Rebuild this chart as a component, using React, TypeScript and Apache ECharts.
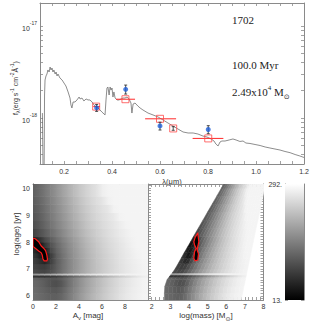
import React, { useEffect, useRef } from "react";
import * as echarts from "echarts";

// ---------- top panel: SED ----------
const spectrumWave = [0.110,0.113,0.117,0.119,0.121,0.125,0.129,0.133,0.138,0.142,0.146,0.150,0.154,0.158,0.163,0.167,0.171,0.175,0.183,0.192,0.200,0.208,0.217,0.225,0.229,0.233,0.238,0.246,0.254,0.263,0.267,0.275,0.283,0.292,0.300,0.308,0.317,0.325,0.333,0.342,0.350,0.358,0.367,0.371,0.375,0.379,0.383,0.388,0.392,0.396,0.400,0.404,0.408,0.413,0.421,0.429,0.438,0.446,0.454,0.463,0.471,0.479,0.483,0.488,0.496,0.508,0.517,0.529,0.550,0.571,0.592,0.613,0.633,0.654,0.675,0.696,0.717,0.738,0.758,0.779,0.796,0.813,0.825,0.833,0.842,0.850,0.858,0.871,0.888,0.904,0.917,0.933,0.946,0.958,0.975,0.996,1.017,1.038,1.058,1.079,1.100,1.121,1.142,1.163,1.183,1.200];
const spectrumLogFlux = [-17.946,-18.62,-18.62,-17.75,-17.587,-17.543,-17.522,-17.478,-17.5,-17.446,-17.478,-17.457,-17.5,-17.478,-17.522,-17.5,-17.543,-17.522,-17.565,-17.587,-17.62,-17.652,-17.717,-17.783,-17.859,-17.891,-17.826,-17.826,-17.804,-17.772,-17.793,-17.783,-17.815,-17.793,-17.804,-17.804,-17.826,-17.859,-17.88,-17.891,-17.913,-17.935,-17.957,-17.967,-17.804,-17.674,-17.663,-17.75,-17.663,-17.696,-17.674,-17.772,-17.717,-17.783,-17.804,-17.804,-17.793,-17.783,-17.783,-17.772,-17.793,-17.837,-17.946,-17.848,-17.837,-17.87,-17.891,-17.913,-17.946,-17.967,-17.989,-18.022,-18.054,-18.087,-18.12,-18.152,-18.163,-18.163,-18.174,-18.196,-18.207,-18.228,-18.25,-18.283,-18.304,-18.261,-18.25,-18.25,-18.239,-18.228,-18.239,-18.255,-18.25,-18.272,-18.277,-18.288,-18.299,-18.315,-18.326,-18.337,-18.348,-18.364,-18.377,-18.397,-18.413,-18.429];

// model (red squares) and band widths, flux in 1e-18 erg/s/cm2/A
const bandWave = [0.334, 0.456, 0.600, 0.655, 0.801];
const bandLo = [0.322, 0.417, 0.538, 0.655, 0.736];
const bandHi = [0.350, 0.496, 0.667, 0.655, 0.864];
const modelFlux = [1.33, 1.60, 0.98, 0.77, 0.60];
// observed (blue points)
const obsWave = [0.336, 0.457, 0.600, 0.801];
const obsFlux = [1.29, 2.05, 0.82, 0.75];
const obsErr = [0.11, 0.23, 0.08, 0.075];
// narrow-band measurement drawn only as an error bar inside its square
const narrowWave = [0.655];
const narrowFlux = [0.77];
const narrowErr = [0.035];

const xLabels = [0.2, 0.4, 0.6, 0.8, 1.0, 1.2];
const yLabelExp = [-18, -17];

// ---------- bottom panels: chi2 maps ----------
const avNodes = [0,0.5,1,1.5,2,2.5,3,3.5,4,4.5,5,5.5,6,6.5,7,7.5,8,8.5,9,9.5,10];
const ageEdges = [5.85,6.1,6.35,6.6,6.7,6.78,6.85,7.0,7.2,7.4,7.6,7.8,8.0,8.2,8.5,8.8,9.1,9.4,9.7,10.0,10.15];
// chi2 per age row (bottom to top) at each A_v node
const chi2Rows = [
  [133,129,123,118,117,126,142,160,177,192,207,219,231,241,249,258,266,271,276,279,280],
  [131,126,119,111,109,119,138,155,173,188,202,215,227,238,247,256,264,270,274,278,280],
  [128,122,114,103,98,109,131,151,168,185,199,212,224,235,245,254,261,268,273,278,280],
  [122,117,111,106,106,117,133,151,168,185,199,212,224,235,245,254,261,268,273,278,280],
  [70,70,70,73,80,94,110,126,141,156,171,185,198,211,222,233,244,253,262,271,277],
  [177,183,188,197,208,219,230,238,247,254,260,266,270,273,276,278,278,278,279,279,280],
  [95,90,87,98,117,137,155,173,188,201,214,225,235,244,251,258,265,270,274,278,280],
  [87,81,79,92,114,134,153,171,186,200,213,224,234,243,250,258,265,270,274,278,280],
  [81,68,51,79,111,133,153,171,186,200,213,225,235,244,251,259,266,271,276,279,280],
  [73,51,29,73,114,136,155,173,188,202,215,226,236,245,253,260,267,272,278,280,280],
  [62,35,40,90,119,140,159,175,190,204,218,229,238,247,255,261,268,273,279,280,280],
  [35,29,68,101,125,144,162,178,194,208,220,231,241,249,256,262,269,276,280,280,280],
  [40,62,92,114,133,151,167,183,197,211,223,234,243,251,258,265,271,277,280,280,280],
  [84,98,114,130,145,161,176,190,204,218,229,238,247,255,261,268,273,279,280,280,280],
  [98,109,123,139,154,168,183,197,210,223,234,243,251,258,265,271,278,280,280,280,280],
  [105,115,129,144,160,174,188,202,215,227,238,247,255,261,268,278,280,280,280,280,280],
  [109,119,133,149,164,178,192,207,220,232,242,250,258,265,278,280,280,280,280,280,280],
  [114,123,138,153,168,183,197,211,224,236,246,255,262,276,280,280,280,280,280,280,280],
  [117,128,142,157,173,188,202,216,230,241,250,259,273,279,280,280,280,280,280,280,280],
  [117,128,142,157,173,188,202,216,230,241,250,259,273,279,280,280,280,280,280,280,280],
];
// log(mass) reached at A_v = 0 and at A_v = 10 for every age edge
const massAtAvMin = [2.68,2.68,2.7,2.82,2.93,3.02,3.1,3.25,3.42,3.58,3.74,3.91,4.08,4.24,4.49,4.74,4.99,5.24,5.49,5.74,5.87];
const massAtAvMax = [6.8,6.88,6.95,7.03,7.06,7.08,7.1,7.15,7.21,7.27,7.33,7.39,7.45,7.51,7.6,7.7,7.79,7.88,7.97,8.06,8.1];

// best-fit contours
const leftContourAv = [0.0,0.2,0.49,0.72,0.92,1.09,1.2,1.26,1.2,0.97,0.86,0.8,0.72,0.49,0.2,0.0];
const leftContourAge = [8.14,8.12,8.01,7.85,7.77,7.68,7.52,7.36,7.3,7.3,7.38,7.52,7.6,7.67,7.77,7.83];
const midContourMass = [4.47,4.53,4.47,4.44,4.51,4.47,4.33,4.26,4.3,4.39,4.3,4.26,4.33,4.44];
const midContourAge = [8.32,8.01,7.83,7.7,7.56,7.33,7.3,7.4,7.64,7.77,7.89,8.01,8.17,8.3];

const chi2Min = 13;
const chi2Max = 292;

const FONT = "Liberation Sans";
const AXC = "#8a8a8a";
const TXT = "#333";

function range(a: number, b: number, step: number): number[] {
  const out: number[] = [];
  const n = Math.round((b - a) / step);
  for (let i = 0; i <= n; i++) out.push(+(a + i * step).toFixed(6));
  return out;
}

function gray(v: number): string {
  let g = Math.round(((v - chi2Min) / (chi2Max - chi2Min)) * 255);
  g = Math.max(0, Math.min(255, g));
  return `rgb(${g},${g},${g})`;
}

export default function App() {
  const ref = useRef<HTMLDivElement>(null);
  useEffect(() => {
    if (!ref.current) return;
    const chart = echarts.init(ref.current, null, { renderer: "svg" });

    const logTicks: number[] = [];
    for (let e = -19; e <= -17; e++) {
      for (let k = 1; k <= 9; k++) {
        const v = Math.log10(k) + e;
        if (v >= -18.5 && v <= -16.75) logTicks.push(v);
      }
    }
    const xTicks = range(0.1, 1.2, 0.05);
    const massTicks = range(1.8, 8.0, 0.2);
    const ageTicks = range(5.9, 10.1, 0.1);
    const cbTicks = range(0, 40, 1).map((i) => chi2Min + (i * (chi2Max - chi2Min)) / 40);

    const tickStyle = (vals: number[], len = 3) => ({
      show: true, inside: true, length: len, customValues: vals,
      lineStyle: { color: AXC, width: 0.8 },
    });
    const line = { show: true, lineStyle: { color: AXC, width: 1 } };
    const lbl = (vals: number[], fmt: (v: number) => string, margin: number) => ({
      show: true, customValues: vals, formatter: fmt, margin,
      fontSize: 7, fontFamily: FONT, color: TXT,
    });
    const noLbl = { show: false };

    const specData = spectrumWave.map((w, i) => [w, spectrumLogFlux[i]]);
    const modelData = bandWave.map((w, i) => [w, Math.log10(modelFlux[i] * 1e-18)]);
    const barData = bandWave.map((w, i) => [bandLo[i], bandHi[i], Math.log10(modelFlux[i] * 1e-18)]).filter((d) => d[1] > d[0]);
    const obsData = obsWave.map((w, i) => [w, Math.log10(obsFlux[i] * 1e-18)]);
    const errData = obsWave.map((w, i) => [w, Math.log10((obsFlux[i] - obsErr[i]) * 1e-18), Math.log10((obsFlux[i] + obsErr[i]) * 1e-18)])
      .concat(narrowWave.map((w, i) => [w, Math.log10((narrowFlux[i] - narrowErr[i]) * 1e-18), Math.log10((narrowFlux[i] + narrowErr[i]) * 1e-18)]));

    const cells: number[][] = [];
    for (let r = 0; r < ageEdges.length - 1; r++) {
      for (let k = 0; k < avNodes.length - 1; k++) {
        cells.push([(avNodes[k] + avNodes[k + 1]) / 2, (ageEdges[r] + ageEdges[r + 1]) / 2, r, k]);
      }
    }
    const avMax = avNodes[avNodes.length - 1];
    const massAt = (av: number, e: number) => massAtAvMin[e] + ((massAtAvMax[e] - massAtAvMin[e]) * av) / avMax;
    const midCells = cells.map((c) => {
      const r = c[2], k = c[3];
      return [(massAt(avNodes[k], r) + massAt(avNodes[k + 1], r + 1)) / 2, c[1], r, k];
    });

    const grad = (c0: string, c1: string) =>
      new echarts.graphic.LinearGradient(0, 0, 1, 0, [
        { offset: 0, color: c0 },
        { offset: 1, color: c1 },
      ]);

    const option: any = {
      animation: false,
      grid: [
        { left: 40, top: 3, width: 264, height: 161 },
        { left: 33, top: 184, width: 115, height: 116 },
        { left: 148, top: 184, width: 115.5, height: 116 },
        { left: 285, top: 184, width: 19, height: 116 },
      ],
      xAxis: [
        { gridIndex: 0, type: "value", position: "bottom", min: 0.1, max: 1.2, axisLine: line, splitLine: { show: false },
          axisTick: tickStyle(xTicks), axisLabel: lbl(xLabels, (v) => v.toFixed(1), 4),
          name: "λ(μm)", nameLocation: "middle", nameGap: 13, nameTextStyle: { fontSize: 7.5, fontFamily: FONT, color: TXT } },
        { gridIndex: 0, type: "value", position: "top", min: 0.1, max: 1.2, axisLine: line, splitLine: { show: false },
          axisTick: tickStyle(xTicks), axisLabel: noLbl },
        { gridIndex: 1, type: "value", position: "bottom", min: 0, max: 10, axisLine: line, splitLine: { show: false },
          axisTick: tickStyle([0, 2, 4, 6, 8]), axisLabel: lbl([0, 2, 4, 6, 8], (v) => String(v), 3) },
        { gridIndex: 1, type: "value", position: "top", min: 0, max: 10, axisLine: line, splitLine: { show: false },
          axisTick: tickStyle([0, 2, 4, 6, 8]), axisLabel: noLbl },
        { gridIndex: 2, type: "value", position: "bottom", min: 1.8, max: 8, axisLine: line, splitLine: { show: false },
          axisTick: tickStyle(massTicks), axisLabel: lbl([2, 3, 4, 5, 6, 7, 8], (v) => String(v), 3) },
        { gridIndex: 2, type: "value", position: "top", min: 1.8, max: 8, axisLine: line, splitLine: { show: false },
          axisTick: tickStyle(massTicks), axisLabel: noLbl },
        { gridIndex: 3, type: "value", min: 0, max: 1, show: false },
      ],
      yAxis: [
        { gridIndex: 0, type: "value", position: "left", min: -18.5, max: -16.75, axisLine: line, splitLine: { show: false },
          axisTick: tickStyle(logTicks),
          axisLabel: { show: true, customValues: yLabelExp, margin: 3, formatter: (v: number) => `{b|10}{s|${Math.round(v)}}`,
            rich: { b: { fontSize: 7, fontFamily: FONT, color: TXT, lineHeight: 12, verticalAlign: "bottom" },
                    s: { fontSize: 5, fontFamily: FONT, color: TXT, lineHeight: 12, verticalAlign: "top" } } } },
        { gridIndex: 0, type: "value", position: "right", min: -18.5, max: -16.75, axisLine: line, splitLine: { show: false },
          axisTick: tickStyle(logTicks), axisLabel: noLbl },
        { gridIndex: 1, type: "value", position: "left", min: 5.85, max: 10.15, axisLine: line, splitLine: { show: false },
          axisTick: tickStyle([6, 7, 8, 9, 10]), axisLabel: lbl([6, 7, 8, 9, 10], (v) => String(v), 3) },
        { gridIndex: 1, type: "value", position: "right", min: 5.85, max: 10.15, axisLine: line, splitLine: { show: false },
          axisTick: { show: false }, axisLabel: noLbl },
        { gridIndex: 2, type: "value", position: "left", min: 5.85, max: 10.15, axisLine: line, splitLine: { show: false },
          axisTick: tickStyle(ageTicks), axisLabel: noLbl },
        { gridIndex: 2, type: "value", position: "right", min: 5.85, max: 10.15, axisLine: line, splitLine: { show: false },
          axisTick: tickStyle(ageTicks), axisLabel: noLbl },
        { gridIndex: 3, type: "value", position: "left", min: chi2Min, max: chi2Max, axisLine: line, splitLine: { show: false },
          axisTick: tickStyle(cbTicks), axisLabel: lbl([chi2Min, chi2Max], (v) => `${Math.round(v)}.`, 3) },
        { gridIndex: 3, type: "value", position: "right", min: chi2Min, max: chi2Max, axisLine: line, splitLine: { show: false },
          axisTick: tickStyle(cbTicks), axisLabel: noLbl },
      ],
      series: [
        { type: "line", xAxisIndex: 0, yAxisIndex: 0, data: specData, symbol: "none", clip: true,
          lineStyle: { color: "#707070", width: 0.8 }, z: 2 },
        { type: "custom", xAxisIndex: 0, yAxisIndex: 0, data: barData, z: 3, clip: true,
          renderItem: (p: any, api: any) => {
            const a = api.coord([api.value(0), api.value(2)]);
            const b = api.coord([api.value(1), api.value(2)]);
            return { type: "line", shape: { x1: a[0], y1: a[1], x2: b[0], y2: b[1] }, style: { stroke: "#ff2a2a", lineWidth: 1 } };
          } },
        { type: "scatter", xAxisIndex: 0, yAxisIndex: 0, data: modelData, symbol: "rect", symbolSize: 7, z: 4,
          itemStyle: { color: "rgba(255,255,255,0)", borderColor: "#ff4a4a", borderWidth: 1 } },
        { type: "custom", xAxisIndex: 0, yAxisIndex: 0, data: errData, z: 5,
          renderItem: (p: any, api: any) => {
            const a = api.coord([api.value(0), api.value(1)]);
            const b = api.coord([api.value(0), api.value(2)]);
            const st = { stroke: "#222", lineWidth: 0.8 };
            return { type: "group", children: [
              { type: "line", shape: { x1: a[0], y1: a[1], x2: b[0], y2: b[1] }, style: st },
              { type: "line", shape: { x1: a[0] - 1.5, y1: a[1], x2: a[0] + 1.5, y2: a[1] }, style: st },
              { type: "line", shape: { x1: b[0] - 1.5, y1: b[1], x2: b[0] + 1.5, y2: b[1] }, style: st },
            ] };
          } },
        { type: "scatter", xAxisIndex: 0, yAxisIndex: 0, data: obsData, symbol: "circle", symbolSize: 5, z: 6,
          itemStyle: { color: "#1f5fd8" } },

        // left chi2 map
        { type: "custom", xAxisIndex: 2, yAxisIndex: 2, data: cells, clip: true, z: 1,
          renderItem: (p: any, api: any) => {
            const r = api.value(2), k = api.value(3);
            const tl = api.coord([avNodes[k], ageEdges[r + 1]]);
            const br = api.coord([avNodes[k + 1], ageEdges[r]]);
            return { type: "rect", shape: { x: tl[0], y: tl[1], width: br[0] - tl[0] + 0.6, height: br[1] - tl[1] + 0.6 },
              style: { fill: grad(gray(chi2Rows[r][k]), gray(chi2Rows[r][k + 1])) } };
          } },
        { type: "custom", xAxisIndex: 2, yAxisIndex: 2, data: [[0.5, 7.7]], clip: true, z: 3,
          renderItem: (p: any, api: any) => ({
            type: "polygon",
            shape: { points: leftContourAv.map((a, i) => api.coord([a, leftContourAge[i]])) },
            style: { fill: "#000", stroke: "#ff1a1a", lineWidth: 1.2 } }) },

        // middle chi2 map (mass vs age)
        { type: "custom", xAxisIndex: 4, yAxisIndex: 4, data: midCells, clip: true, z: 1,
          renderItem: (p: any, api: any) => {
            const r = api.value(2), k = api.value(3);
            const a0 = avNodes[k], a1 = avNodes[k + 1];
            const pts = [
              api.coord([massAt(a0, r), ageEdges[r]]),
              api.coord([massAt(a1, r), ageEdges[r]]),
              api.coord([massAt(a1, r + 1), ageEdges[r + 1]]),
              api.coord([massAt(a0, r + 1), ageEdges[r + 1]]),
            ];
            const g = grad(gray(chi2Rows[r][k]), gray(chi2Rows[r][k + 1]));
            return { type: "polygon", shape: { points: pts }, style: { fill: g, stroke: g, lineWidth: 0.5 } };
          } },
        { type: "custom", xAxisIndex: 4, yAxisIndex: 4, data: [[4.4, 7.8]], clip: true, z: 3,
          renderItem: (p: any, api: any) => ({
            type: "polygon",
            shape: { points: midContourMass.map((m, i) => api.coord([m, midContourAge[i]])) },
            style: { fill: "#000", stroke: "#ff1a1a", lineWidth: 1.2 } }) },

        // colour bar
        { type: "custom", xAxisIndex: 6, yAxisIndex: 6, data: [[0.5, (chi2Min + chi2Max) / 2]], z: 1,
          renderItem: (p: any, api: any) => {
            const tl = api.coord([0, chi2Max]);
            const br = api.coord([1, chi2Min]);
            return { type: "rect", shape: { x: tl[0], y: tl[1], width: br[0] - tl[0], height: br[1] - tl[1] },
              style: { fill: new echarts.graphic.LinearGradient(0, 0, 0, 1, [
                { offset: 0, color: "#ffffff" }, { offset: 1, color: "#000000" }]) } };
          } },
      ],
      graphic: [
        { type: "text", x: 232, y: 20, style: { text: "1702", fontSize: 11, fontFamily: "Liberation Serif", fill: "#222", verticalAlign: "middle" } },
        { type: "text", x: 232, y: 65, style: { text: "100.0 Myr", fontSize: 11, fontFamily: "Liberation Serif", fill: "#222", verticalAlign: "middle" } },
        { type: "text", x: 232, y: 92, style: {
            text: "{n|2.49x10}{sup|4}{n| M}{sub|⊙}", verticalAlign: "middle",
            rich: { n: { fontSize: 11, fontFamily: "Liberation Serif", fill: "#222", lineHeight: 16, verticalAlign: "middle" },
                    sup: { fontSize: 7, fontFamily: "Liberation Serif", fill: "#222", lineHeight: 16, verticalAlign: "top" },
                    sub: { fontSize: 7, fontFamily: "DejaVu Sans", fill: "#222", lineHeight: 16, verticalAlign: "bottom" } } } },
        { type: "text", x: 15, y: 88, rotation: Math.PI / 2, style: {
            text: "{n|f}{sub|λ}{n|(erg s}{sup|-1}{n| cm}{sup|-2}{n|Å}{sup|-1}{n|)}", align: "center", verticalAlign: "middle",
            rich: { n: { fontSize: 7, fontFamily: FONT, fill: TXT, lineHeight: 11, verticalAlign: "middle" },
                    sub: { fontSize: 5, fontFamily: FONT, fill: TXT, lineHeight: 11, verticalAlign: "bottom" },
                    sup: { fontSize: 5, fontFamily: FONT, fill: TXT, lineHeight: 11, verticalAlign: "top" } } } },
        { type: "text", x: 16, y: 234, rotation: Math.PI / 2, style: {
            text: "log(age) [yr]", align: "center", verticalAlign: "middle", fontSize: 8, fontFamily: FONT, fill: TXT } },
        { type: "text", x: 88, y: 315, style: {
            text: "{n|A}{sub|v}{n| [mag]}", align: "center", verticalAlign: "middle",
            rich: { n: { fontSize: 8, fontFamily: FONT, fill: TXT, lineHeight: 12, verticalAlign: "middle" },
                    sub: { fontSize: 6, fontFamily: FONT, fill: TXT, lineHeight: 12, verticalAlign: "bottom" } } } },
        { type: "text", x: 206, y: 315, style: {
            text: "{n|log(mass) [M}{sub|⊙}{n|]}", align: "center", verticalAlign: "middle",
            rich: { n: { fontSize: 8, fontFamily: FONT, fill: TXT, lineHeight: 12, verticalAlign: "middle" },
                    sub: { fontSize: 6, fontFamily: "DejaVu Sans", fill: TXT, lineHeight: 12, verticalAlign: "bottom" } } } },
      ],
    };
    chart.setOption(option);
    return () => chart.dispose();
  }, []);
  return <div ref={ref} style={{ position: "fixed", left: 0, top: 0, width: 330, height: 330, background: "#fff" }} />;
}
